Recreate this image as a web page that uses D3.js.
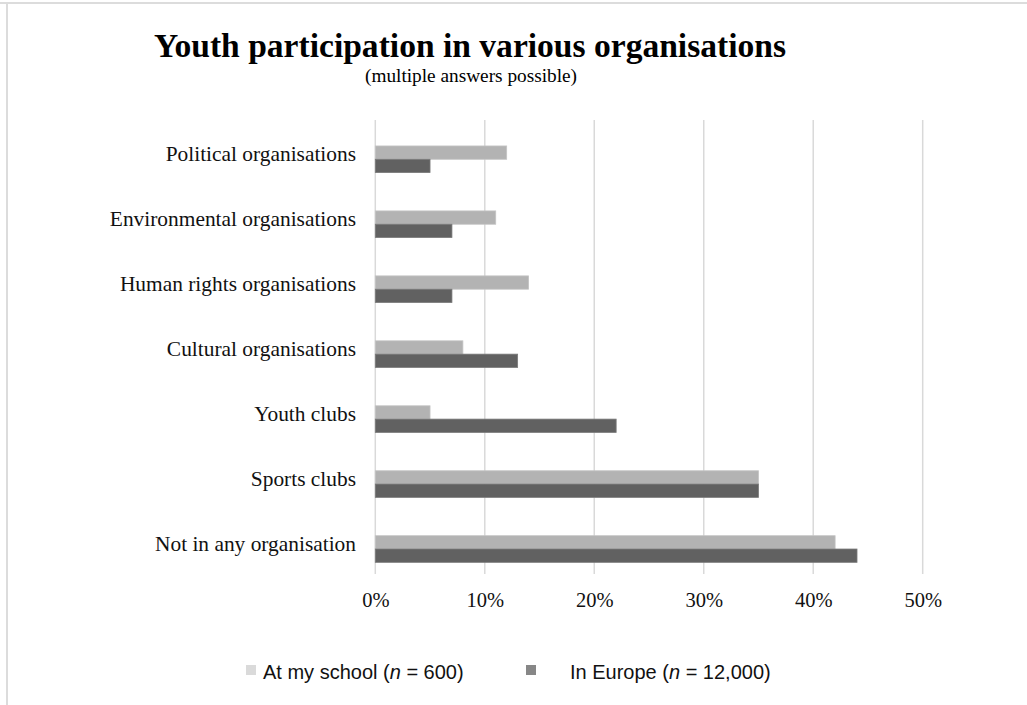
<!DOCTYPE html>
<html>
<head>
<meta charset="utf-8">
<script src="https://cdn.jsdelivr.net/npm/d3@7/dist/d3.min.js"></script>
<style>
  body { margin: 0; background: #fff; }
  svg { display: block; }
</style>
</head>
<body>
<svg width="1027" height="705"></svg>
<script>
var categories = ["Political organisations", "Environmental organisations", "Human rights organisations",
    "Cultural organisations", "Youth clubs", "Sports clubs", "Not in any organisation"];
var schoolValues = [12, 11, 14, 8, 5, 35, 42];
var europeValues = [5, 7, 7, 13, 22, 35, 44];
var seriesNames = ["At my school", "In Europe"];
var seriesN = ["600", "12,000"];
var tickValues = [0, 10, 20, 30, 40, 50];

var svg = d3.select("svg");

// frame lines (top + left), like the cropped screenshot
svg.append("line").attr("x1", 0).attr("x2", 1027).attr("y1", 3).attr("y2", 3)
    .attr("stroke", "#dcdcdc").attr("stroke-width", 2);
svg.append("line").attr("x1", 7).attr("x2", 7).attr("y1", 2).attr("y2", 705)
    .attr("stroke", "#dcdcdc").attr("stroke-width", 2);

svg.append("text")
    .attr("x", 470).attr("y", 57)
    .attr("text-anchor", "middle")
    .style("font-family", "'Liberation Serif', serif")
    .style("font-weight", "bold")
    .style("font-size", "33px")
    .attr("textLength", 632).attr("lengthAdjust", "spacingAndGlyphs")
    .text("Youth participation in various organisations");

svg.append("text")
    .attr("x", 471).attr("y", 82)
    .attr("text-anchor", "middle")
    .style("font-family", "'Liberation Serif', serif")
    .style("font-size", "18px")
    .attr("textLength", 212).attr("lengthAdjust", "spacingAndGlyphs")
    .text("(multiple answers possible)");

var x = d3.scaleLinear().domain([0, 50]).range([375.3, 922.7]);
var y = d3.scaleBand().domain(categories).range([126.8, 581.5]).paddingInner(0.59).paddingOuter(0.295);
var sub = d3.scaleBand().domain(seriesNames).range([0, y.bandwidth()]);

// vertical gridlines
svg.append("g").selectAll("line")
    .data(tickValues)
    .enter().append("line")
        .attr("x1", function(d) { return x(d); })
        .attr("x2", function(d) { return x(d); })
        .attr("y1", 120).attr("y2", 574)
        .attr("stroke", "#d9d9d9").attr("stroke-width", 1.5);

var xAxis = svg.append("g")
    .attr("transform", "translate(0,574)")
    .call(d3.axisBottom(x).tickValues(tickValues).tickSize(0).tickPadding(18)
        .tickFormat(function(d) { return d + "%"; }));
xAxis.select(".domain").remove();
xAxis.selectAll("text")
    .style("font-family", "'Liberation Serif', serif")
    .style("font-size", "20.5px")
    .attr("fill", "#111");

var yAxis = svg.append("g")
    .attr("transform", "translate(375,0)")
    .call(d3.axisLeft(y).tickSize(0).tickPadding(19));
yAxis.select(".domain").remove();
yAxis.selectAll("text")
    .style("font-family", "'Liberation Serif', serif")
    .style("font-size", "21.4px")
    .attr("dy", "0.07em")
    .attr("fill", "#111");

var colors = ["#b3b3b3", "#616161"];
var strokes = ["#c4c4c4", "#7a7a7a"];
var legendColors = ["#dadada", "#878787"];

var rows = categories.map(function(c, i) {
    return {cat: c, vals: [schoolValues[i], europeValues[i]]};
});

var groups = svg.selectAll(".row")
    .data(rows)
    .enter().append("g")
        .attr("class", "row")
        .attr("transform", function(d) { return "translate(0," + y(d.cat) + ")"; });

groups.selectAll("rect")
    .data(function(d) { return d.vals.map(function(v, j) { return {name: seriesNames[j], val: v, j: j}; }); })
    .enter().append("rect")
        .attr("x", x(0))
        .attr("y", function(d) { return sub(d.name); })
        .attr("width", function(d) { return x(d.val) - x(0); })
        .attr("height", sub.bandwidth())
        .attr("fill", function(d) { return colors[d.j]; })
        .attr("stroke", function(d) { return strokes[d.j]; })
        .attr("stroke-width", 0.8);

// legend
var legendX = [246, 526];
var legendTextX = [263, 570];
var legend = svg.append("g");
seriesNames.forEach(function(name, j) {
    legend.append("rect")
        .attr("x", legendX[j]).attr("y", 665)
        .attr("width", 10).attr("height", 10)
        .attr("fill", legendColors[j]);
    var t = legend.append("text")
        .attr("x", legendTextX[j]).attr("y", 679)
        .style("font-family", "'Liberation Sans', Arial, sans-serif")
        .style("font-size", "20px")
        .attr("fill", "#111");
    t.append("tspan").text(name + " (");
    t.append("tspan").style("font-style", "italic").text("n");
    t.append("tspan").text(" = " + seriesN[j] + ")");
});
</script>
</body>
</html>
